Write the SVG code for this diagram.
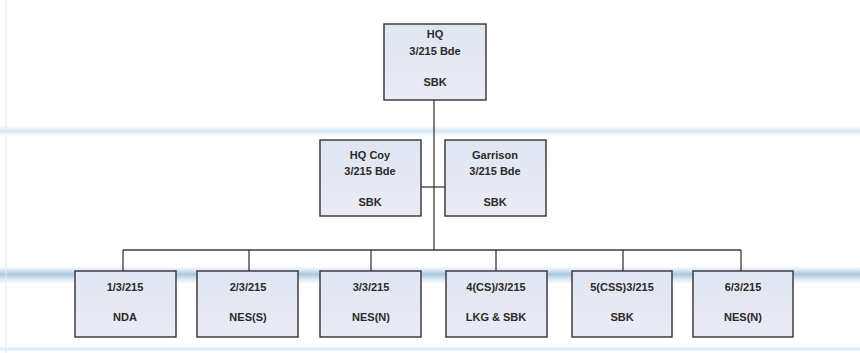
<svg xmlns="http://www.w3.org/2000/svg" width="860" height="353" viewBox="0 0 860 353">
<defs>
<linearGradient id="band1" x1="0" y1="0" x2="0" y2="1">
<stop offset="0" stop-color="#e4eef6" stop-opacity="0"/>
<stop offset="0.5" stop-color="#d6e6f2"/>
<stop offset="1" stop-color="#e4eef6" stop-opacity="0"/>
</linearGradient>
<linearGradient id="band2" x1="0" y1="0" x2="0" y2="1">
<stop offset="0" stop-color="#c4d8e8" stop-opacity="0"/>
<stop offset="0.45" stop-color="#a9c6dd"/>
<stop offset="1" stop-color="#c4d8e8" stop-opacity="0"/>
</linearGradient>
<linearGradient id="boxfill" x1="0" y1="0" x2="0" y2="1">
<stop offset="0" stop-color="#dfe6f2"/>
<stop offset="1" stop-color="#ebebf6"/>
</linearGradient>
</defs>
<style>
.box{fill:url(#boxfill);stroke:#333;stroke-width:1.4}
.ln{fill:none;stroke:#3a3a3a;stroke-width:1.3}
text{font-family:"Liberation Sans",Arial,sans-serif;font-size:11px;font-weight:bold;fill:#2a2a2a;text-anchor:middle}
</style>
<rect width="860" height="353" fill="#ffffff"/>
<rect x="0" y="125" width="860" height="12" fill="url(#band1)"/>
<rect x="0" y="266" width="860" height="18" fill="url(#band2)"/>
<rect x="0" y="346" width="860" height="6" fill="url(#band1)"/>
<line x1="6" y1="0" x2="6" y2="353" stroke="#eaeaea" stroke-width="1"/>
<g id="connectors" class="ln">
<path d="M434 100 V250"/>
<path d="M421 187 H445"/>
<path d="M123 250 H741"/>
<path d="M123 250 V271 M249 250 V271 M371 250 V271 M496 250 V271 M623 250 V271 M741 250 V271"/>
</g>
<g id="hq">
<rect class="box" x="384" y="24" width="102" height="76"/>
<text x="435" y="38">HQ</text>
<text x="435" y="55">3/215 Bde</text>
<text x="435" y="86">SBK</text>
</g>
<g id="hqcoy">
<rect class="box" x="320" y="140" width="101" height="76"/>
<text x="370" y="159">HQ Coy</text>
<text x="370" y="175">3/215 Bde</text>
<text x="370" y="206">SBK</text>
</g>
<g id="garrison">
<rect class="box" x="445" y="140" width="101" height="76"/>
<text x="495" y="159">Garrison</text>
<text x="495" y="175">3/215 Bde</text>
<text x="495" y="206">SBK</text>
</g>
<g id="unit1">
<rect class="box" x="75" y="271" width="101" height="66"/>
<text x="125" y="291">1/3/215</text>
<text x="125" y="321">NDA</text>
</g>
<g id="unit2">
<rect class="box" x="197" y="271" width="101" height="66"/>
<text x="248" y="291">2/3/215</text>
<text x="248" y="321">NES(S)</text>
</g>
<g id="unit3">
<rect class="box" x="320" y="271" width="101" height="66"/>
<text x="371" y="291">3/3/215</text>
<text x="371" y="321">NES(N)</text>
</g>
<g id="unit4">
<rect class="box" x="446" y="271" width="101" height="66"/>
<text x="496" y="291">4(CS)/3/215</text>
<text x="496" y="321">LKG &amp; SBK</text>
</g>
<g id="unit5">
<rect class="box" x="572" y="271" width="100" height="66"/>
<text x="622" y="291">5(CSS)3/215</text>
<text x="622" y="321">SBK</text>
</g>
<g id="unit6">
<rect class="box" x="693" y="271" width="100" height="66"/>
<text x="743" y="291">6/3/215</text>
<text x="743" y="321">NES(N)</text>
</g>
</svg>
